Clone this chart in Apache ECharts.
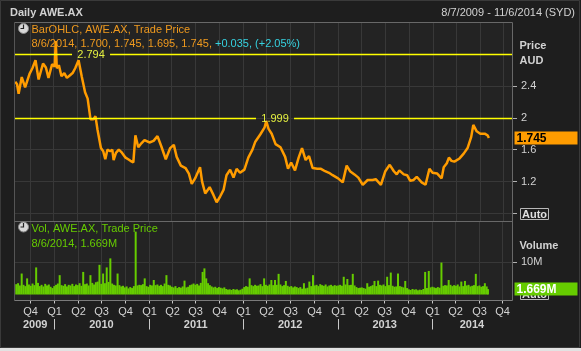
<!DOCTYPE html>
<html>
<head>
<meta charset="utf-8">
<script src="https://cdn.jsdelivr.net/npm/echarts@6/dist/echarts.min.js"></script>
<style>
  html, body { margin: 0; padding: 0; background: #1e1e1e; }
  #chart { width: 581px; height: 351px; }
</style>
</head>
<body>
<div id="chart"></div>
<script>
// price (closes), AUD
var priceDates = [
  '2009-08-07','2009-08-14','2009-08-20','2009-09-01','2009-09-14','2009-10-01','2009-10-12','2009-10-24','2009-11-05','2009-11-22','2009-12-03','2009-12-13','2009-12-27',
  '2010-01-06','2010-01-10','2010-01-14','2010-01-22','2010-02-01','2010-02-12','2010-02-22','2010-03-05','2010-03-16','2010-03-26','2010-04-08','2010-04-20','2010-05-03','2010-05-13','2010-05-24','2010-06-04','2010-06-12','2010-06-20','2010-07-03','2010-07-12','2010-07-20','2010-07-28','2010-08-08','2010-08-16','2010-08-21','2010-08-30','2010-09-10','2010-09-20','2010-10-06','2010-10-16','2010-10-25','2010-11-05','2010-11-13','2010-11-24','2010-12-06','2010-12-18',
  '2011-01-06','2011-01-22','2011-02-06','2011-02-21','2011-03-10','2011-03-27','2011-04-10','2011-04-21','2011-05-07','2011-05-25','2011-06-07','2011-06-18','2011-07-01','2011-07-20','2011-07-28','2011-08-09','2011-08-26','2011-09-10','2011-09-22','2011-10-05','2011-10-19','2011-10-30','2011-11-13','2011-11-26','2011-12-08','2011-12-21',
  '2012-01-07','2012-01-22','2012-02-07','2012-02-18','2012-03-08','2012-03-25','2012-03-31','2012-04-09','2012-04-21','2012-05-06','2012-05-25','2012-06-12','2012-06-23','2012-07-05','2012-07-20','2012-08-03','2012-08-16','2012-08-30','2012-09-12','2012-09-26','2012-10-14','2012-10-28','2012-11-13','2012-11-28','2012-12-12',
  '2013-01-02','2013-01-20','2013-02-04','2013-02-17','2013-03-06','2013-03-21','2013-04-07','2013-04-26','2013-05-15','2013-05-27','2013-06-16','2013-07-03','2013-07-20','2013-08-05','2013-08-16','2013-08-26','2013-09-12','2013-09-25','2013-10-07','2013-10-20','2013-11-01','2013-11-20','2013-12-05','2013-12-20',
  '2014-01-01','2014-01-19','2014-02-05','2014-02-13','2014-02-25','2014-03-05','2014-03-15','2014-03-26','2014-04-15','2014-05-01','2014-05-16','2014-05-30','2014-06-07','2014-06-20','2014-07-04','2014-07-21','2014-08-01','2014-08-06'
];
var priceValues = [
  2.45,2.42,2.30,2.51,2.38,2.55,2.62,2.72,2.48,2.68,2.63,2.50,2.67,
  2.64,2.96,2.62,2.66,2.52,2.56,2.50,2.53,2.56,2.62,2.72,2.52,2.32,2.24,1.98,1.98,2.02,1.85,1.62,1.58,1.48,1.60,1.58,1.60,1.47,1.56,1.60,1.57,1.50,1.48,1.46,1.44,1.78,1.63,1.68,1.72,
  1.69,1.71,1.77,1.64,1.48,1.62,1.66,1.51,1.40,1.37,1.30,1.17,1.24,1.38,1.20,1.05,1.13,1.03,0.94,1.01,1.10,1.28,1.35,1.25,1.36,1.31,
  1.35,1.50,1.60,1.70,1.79,1.88,1.96,1.86,1.80,1.67,1.63,1.51,1.36,1.44,1.34,1.50,1.62,1.47,1.52,1.37,1.36,1.36,1.33,1.31,1.28,
  1.24,1.19,1.40,1.33,1.29,1.25,1.16,1.22,1.22,1.23,1.16,1.33,1.41,1.33,1.29,1.34,1.29,1.28,1.21,1.22,1.26,1.19,1.16,1.36,
  1.31,1.30,1.24,1.38,1.43,1.50,1.46,1.45,1.49,1.55,1.62,1.76,1.91,1.83,1.80,1.80,1.78,1.745
];

// volume, millions of shares
var volDates = [
  '2009-08-07','2009-08-14','2009-08-21','2009-08-28','2009-09-04','2009-09-11','2009-09-18','2009-09-25','2009-10-02','2009-10-09','2009-10-16','2009-10-23','2009-10-30','2009-11-06','2009-11-13','2009-11-20','2009-11-27','2009-12-04','2009-12-11','2009-12-18','2009-12-25',
  '2010-01-01','2010-01-08','2010-01-15','2010-01-22','2010-01-29','2010-02-05','2010-02-12','2010-02-19','2010-02-26','2010-03-05','2010-03-12','2010-03-19','2010-03-26','2010-04-02','2010-04-09','2010-04-16','2010-04-23','2010-04-30','2010-05-07','2010-05-14','2010-05-21','2010-05-28','2010-06-04','2010-06-11','2010-06-18','2010-06-25','2010-07-02','2010-07-09','2010-07-16','2010-07-23','2010-07-30','2010-08-06','2010-08-13','2010-08-20','2010-08-27','2010-09-03','2010-09-10','2010-09-17','2010-09-24','2010-10-01','2010-10-08','2010-10-15','2010-10-22','2010-10-29','2010-11-05','2010-11-12','2010-11-19','2010-11-26','2010-12-03','2010-12-10','2010-12-17','2010-12-24','2010-12-31',
  '2011-01-07','2011-01-14','2011-01-21','2011-01-28','2011-02-04','2011-02-11','2011-02-18','2011-02-25','2011-03-04','2011-03-11','2011-03-18','2011-03-25','2011-04-01','2011-04-08','2011-04-15','2011-04-22','2011-04-29','2011-05-06','2011-05-13','2011-05-20','2011-05-27','2011-06-03','2011-06-10','2011-06-17','2011-06-24','2011-07-01','2011-07-08','2011-07-15','2011-07-22','2011-07-29','2011-08-05','2011-08-12','2011-08-19','2011-08-26','2011-09-02','2011-09-09','2011-09-16','2011-09-23','2011-09-30','2011-10-07','2011-10-14','2011-10-21','2011-10-28','2011-11-04','2011-11-11','2011-11-18','2011-11-25','2011-12-02','2011-12-09','2011-12-16','2011-12-23','2011-12-30',
  '2012-01-06','2012-01-13','2012-01-20','2012-01-27','2012-02-03','2012-02-10','2012-02-17','2012-02-24','2012-03-02','2012-03-09','2012-03-16','2012-03-23','2012-03-30','2012-04-06','2012-04-13','2012-04-20','2012-04-27','2012-05-04','2012-05-11','2012-05-18','2012-05-25','2012-06-01','2012-06-08','2012-06-15','2012-06-22','2012-06-29','2012-07-06','2012-07-13','2012-07-20','2012-07-27','2012-08-03','2012-08-10','2012-08-17','2012-08-24','2012-08-31','2012-09-07','2012-09-14','2012-09-21','2012-09-28','2012-10-05','2012-10-12','2012-10-19','2012-10-26','2012-11-02','2012-11-09','2012-11-16','2012-11-23','2012-11-30','2012-12-07','2012-12-14','2012-12-21','2012-12-28',
  '2013-01-04','2013-01-11','2013-01-18','2013-01-25','2013-02-01','2013-02-08','2013-02-15','2013-02-22','2013-03-01','2013-03-08','2013-03-15','2013-03-22','2013-03-29','2013-04-05','2013-04-12','2013-04-19','2013-04-26','2013-05-03','2013-05-10','2013-05-17','2013-05-24','2013-05-31','2013-06-07','2013-06-14','2013-06-21','2013-06-28','2013-07-05','2013-07-12','2013-07-19','2013-07-26','2013-08-02','2013-08-09','2013-08-16','2013-08-23','2013-08-30','2013-09-06','2013-09-13','2013-09-20','2013-09-27','2013-10-04','2013-10-11','2013-10-18','2013-10-25','2013-11-01','2013-11-08','2013-11-15','2013-11-22','2013-11-29','2013-12-06','2013-12-13','2013-12-20','2013-12-27',
  '2014-01-03','2014-01-10','2014-01-17','2014-01-24','2014-01-31','2014-02-07','2014-02-14','2014-02-21','2014-02-28','2014-03-07','2014-03-14','2014-03-21','2014-03-28','2014-04-04','2014-04-11','2014-04-18','2014-04-25','2014-05-02','2014-05-09','2014-05-16','2014-05-23','2014-05-30','2014-06-06','2014-06-13','2014-06-20','2014-06-27','2014-07-04','2014-07-11','2014-07-18','2014-07-25','2014-08-01','2014-08-06'
];
var volValues = [
  3.2,3.5,2.8,6.5, 3.0,2.6,5.0,3.1, 2.7,3.4,2.9,8.4,3.6, 2.6,3.0,2.5,3.3, 2.8,3.1,2.4,2.0,
  2.6,3.0,3.4,6.0,2.9, 2.7,3.2,2.5,3.0, 2.8,3.3,2.6,3.1, 2.9,3.5,2.7,7.0,3.2, 3.4,2.8,6.0,3.6, 3.1,3.8,4.0,9.2, 3.3,6.5,3.5,8.4,3.9, 11.2,3.4,3.0,2.8, 6.5,2.9,2.5,2.7, 2.2,2.5,1.9,2.3,2.0, 2.6,19.5,2.8,3.0, 2.9,3.2,5.0,2.6,2.4,
  3.0,2.8,4.5,2.9, 3.1,2.7,3.0,2.6, 3.4,6.0,3.0,2.8, 2.4,2.2,2.6,2.0,2.3, 2.1,2.5,4.3,2.2, 2.4,2.9,3.1,3.4, 3.0,3.3,2.8,3.6,7.0, 8.1,5.0,3.5,2.9, 2.5,2.2,2.4,2.0,2.3, 2.1,1.9,2.2,1.7, 1.5,1.6,1.4,1.7, 1.5,1.6,1.3,1.5,1.8,
  2.3,2.6,2.4,5.0, 2.9,2.6,3.0,2.7, 2.8,3.2,2.6,5.0,3.0, 2.7,3.1,4.5,2.9, 4.5,3.0,6.4,3.1, 2.6,2.9,4.2,2.7,2.4, 2.6,2.2,2.5,2.3, 2.0,2.3,1.8,3.5,1.9, 2.1,4.0,2.6,6.0, 2.8,3.0,2.6,3.2, 2.9,2.7,3.1,2.5,2.8, 3.0,2.6,2.9,2.7,
  2.8,3.0,2.7,5.5, 3.1,4.8,2.9,3.0, 6.4,2.8,2.3,2.0,2.1, 2.2,2.0,1.8,3.5, 2.4,2.6,2.9,4.2,2.6, 4.3,3.0,2.8,3.1, 2.6,5.5,2.9,6.8, 2.7,2.4,2.5,6.5,2.6, 2.4,2.2,4.2,2.0, 1.6,1.4,1.7,1.5, 1.6,1.3,1.5,1.4,1.7, 7.0,2.0,7.3,2.2,
  2.4,2.2,2.0,2.3,2.1, 9.9,2.7,2.9,2.8, 4.5,3.0,2.6,2.9, 2.7,3.1,2.5,4.0, 2.6,4.2,2.8,3.0,2.5, 2.7,2.9,6.4,2.6, 2.8,2.4,2.6,3.5, 2.5,1.669
];

var quarterStarts = ['2009-10-01','2010-01-01','2010-04-01','2010-07-01','2010-10-01','2011-01-01','2011-04-01','2011-07-01','2011-10-01','2012-01-01','2012-04-01','2012-07-01','2012-10-01','2013-01-01','2013-04-01','2013-07-01','2013-10-01','2014-01-01','2014-04-01','2014-07-01','2014-10-01'];
var quarterLabels = ['Q4','Q1','Q2','Q3','Q4','Q1','Q2','Q3','Q4','Q1','Q2','Q3','Q4','Q1','Q2','Q3','Q4','Q1','Q2','Q3','Q4'];
var yearLabels = ['2009','2010','2011','2012','2013','2014'];
var priceTicks = [1.2, 1.6, 2, 2.4];
var volTicks = [10];
var hiLevels = [2.794, 1.999];
var hiLabelDates = ['2010-05-26', '2012-05-04'];
var lastDate = '8/6/2014';
var lastOHLC = ['1.700', '1.745', '1.695', '1.745'];
var lastChange = ['+0.035', '+2.05%'];
var lastClose = 1.745;
var lastVol = 1.669;
var xMin = '2009-08-06', xMax = '2014-11-07';

var FONT = '"Liberation Sans", Arial, sans-serif';
var BG = '#1e1e1e', PLOT = '#232323', GRIDC = '#383838', FRAME = '#686868';
var TXT = '#d2d2d2', ORANGE = '#ff9c00', OTXT = '#f09a1e', CYAN = '#36d2e0';
var GREEN = '#66cc00', YELLOW = '#ffff00', YTXT = '#e4f040';

var tp = echarts.time.parse;
var tMin = +tp(xMin), tMax = +tp(xMax);

var priceData = priceDates.map(function (d, i) { return [d, priceValues[i]]; });
var volData = volDates.map(function (d, i) { return [d, volValues[i]]; });
var qData = quarterStarts.map(function (d) { return [+tp(d), 0]; });
var yData = yearLabels.map(function (y) {
  var s = +tp(y + '-01-01'), e = +tp((+y + 1) + '-01-01');
  return [Math.max(s, tMin), Math.min(e, tMax)];
});
var hiData = hiLevels.map(function (v, i) { return [+tp(hiLabelDates[i]), v]; });

function crisp(v) { return Math.round(v) + 0.5; }

// value box on the right of the axis (current price / volume)
function valueBox(text, fill, color) {
  return function (params, api) {
    var cs = params.coordSys;
    var y = api.coord([api.value(0), api.value(1)])[1];
    var x = cs.x + cs.width + 1.5;
    return {
      type: 'group', children: [
        { type: 'rect', shape: { x: x, y: Math.round(y) - 6.5, width: 63, height: 13 }, style: { fill: fill } },
        { type: 'text', x: x + 2, y: Math.round(y) + 0.5, style: { text: text, fill: color, font: 'bold 12px ' + FONT, verticalAlign: 'middle' } }
      ]
    };
  };
}

var chart = echarts.init(document.getElementById('chart'));

var option = {
  backgroundColor: BG,
  animation: false,
  textStyle: { fontFamily: FONT },
  grid: [
    { left: 15, right: 68, top: 22, bottom: 137.5 },
    { left: 15, right: 68, top: 230, bottom: 56.5 }
  ],
  xAxis: [
    { type: 'time', gridIndex: 0, min: xMin, max: xMax, show: false },
    { type: 'time', gridIndex: 1, min: xMin, max: xMax, show: false }
  ],
  yAxis: [
    {
      type: 'value', gridIndex: 0, position: 'right', min: 0.8, max: 3.2, interval: 0.4,
      axisLine: { show: false },
      axisTick: { show: true, length: 4, lineStyle: { color: '#b0b0b0' }, customValues: [0.8, 1.2, 1.6, 2, 2.4] },
      axisLabel: { color: TXT, fontSize: 11, margin: 8, customValues: priceTicks },
      splitLine: { lineStyle: { color: GRIDC } }
    },
    {
      type: 'value', gridIndex: 1, position: 'right', min: 0, max: 20, interval: 10,
      axisLine: { show: false },
      axisTick: { show: true, length: 4, lineStyle: { color: '#b0b0b0' }, customValues: volTicks },
      axisLabel: { color: TXT, fontSize: 11, margin: 8, customValues: volTicks, formatter: '{value}M' },
      splitLine: { lineStyle: { color: GRIDC } }
    }
  ],
  series: [
    {
      // quarter grid lines, price panel
      type: 'custom', xAxisIndex: 0, yAxisIndex: 0, silent: true, z: 1,
      data: qData,
      renderItem: function (params, api) {
        var cs = params.coordSys;
        var x = crisp(api.coord([api.value(0), 0])[0]);
        return { type: 'line', shape: { x1: x, y1: cs.y, x2: x, y2: cs.y + cs.height + 8 }, style: { stroke: GRIDC, lineWidth: 1 } };
      }
    },
    {
      // quarter grid lines, ticks and labels, volume panel
      type: 'custom', xAxisIndex: 1, yAxisIndex: 1, silent: true, z: 1, clip: false,
      data: qData,
      renderItem: function (params, api) {
        var cs = params.coordSys;
        var x = crisp(api.coord([api.value(0), 0])[0]);
        var b = cs.y + cs.height;
        return {
          type: 'group', children: [
            { type: 'line', shape: { x1: x, y1: cs.y - 8, x2: x, y2: b + 6 }, style: { stroke: GRIDC, lineWidth: 1 } },
            { type: 'line', shape: { x1: x, y1: b + 6, x2: x, y2: b + 9 }, style: { stroke: '#c8c8c8', lineWidth: 1 } },
            { type: 'text', x: x, y: b + 17.5, style: { text: quarterLabels[params.dataIndex], fill: TXT, font: '11px ' + FONT, align: 'center', verticalAlign: 'middle' } }
          ]
        };
      }
    },
    {
      // year labels and separators
      type: 'custom', xAxisIndex: 1, yAxisIndex: 1, silent: true, z: 1, clip: false,
      data: yData,
      renderItem: function (params, api) {
        var cs = params.coordSys;
        var x1 = api.coord([api.value(0), 0])[0];
        var x2 = api.coord([api.value(1), 0])[0];
        var b = cs.y + cs.height;
        var kids = [
          { type: 'text', x: (x1 + x2) / 2, y: b + 30, style: { text: yearLabels[params.dataIndex], fill: TXT, font: 'bold 11px ' + FONT, align: 'center', verticalAlign: 'middle' } }
        ];
        if (params.dataIndex > 0) {
          var sx = crisp(x1);
          kids.push({ type: 'line', shape: { x1: sx, y1: b + 24.5, x2: sx, y2: b + 35 }, style: { stroke: '#c8c8c8', lineWidth: 1 } });
        }
        return { type: 'group', children: kids };
      }
    },
    {
      type: 'line', name: 'Price', xAxisIndex: 0, yAxisIndex: 0, z: 2,
      data: priceData,
      showSymbol: false,
      lineStyle: { color: ORANGE, width: 2.5 }
    },
    {
      // high lines with their labels
      type: 'custom', xAxisIndex: 0, yAxisIndex: 0, silent: true, z: 3,
      data: hiData,
      renderItem: function (params, api) {
        var cs = params.coordSys;
        var p = api.coord([api.value(0), api.value(1)]);
        var y = crisp(p[1]);
        var half = 19;
        var st = { stroke: YELLOW, lineWidth: 1.3 };
        return {
          type: 'group', children: [
            { type: 'line', shape: { x1: cs.x, y1: y, x2: p[0] - half, y2: y }, style: st },
            { type: 'line', shape: { x1: p[0] + half, y1: y, x2: cs.x + cs.width, y2: y }, style: st },
            { type: 'text', x: p[0], y: y, style: { text: hiLevels[params.dataIndex].toFixed(3), fill: YTXT, font: '11px ' + FONT, align: 'center', verticalAlign: 'middle' } }
          ]
        };
      }
    },
    {
      // current price box
      type: 'custom', xAxisIndex: 0, yAxisIndex: 0, silent: true, z: 6, clip: false,
      data: [[priceDates[priceDates.length - 1], lastClose]],
      renderItem: valueBox(lastClose.toFixed(3), ORANGE, '#000')
    },
    {
      type: 'bar', name: 'Vol', xAxisIndex: 1, yAxisIndex: 1, z: 2,
      data: volData,
      barWidth: 2,
      itemStyle: { color: GREEN }
    },
    {
      // current volume box
      type: 'custom', xAxisIndex: 1, yAxisIndex: 1, silent: true, z: 6, clip: false,
      data: [[volDates[volDates.length - 1], lastVol]],
      renderItem: valueBox(lastVol.toFixed(3) + 'M', GREEN, '#fff')
    }
  ],
  graphic: [
    { type: 'rect', z: -10, shape: { x: 14.5, y: 22.5, width: 498, height: 278 }, style: { fill: PLOT } },
    { type: 'rect', z: -10, shape: { x: 0.5, y: 0.5, width: 579, height: 347 }, style: { fill: 'none', stroke: '#3a3a3a' } },
    { type: 'rect', z: 50, shape: { x: 0, y: 348, width: 581, height: 3 }, style: { fill: '#e2e2e2' } },
    // panel frame
    { type: 'line', z: 20, shape: { x1: 14.5, y1: 22.5, x2: 512.5, y2: 22.5 }, style: { stroke: FRAME } },
    { type: 'line', z: 20, shape: { x1: 14.5, y1: 22.5, x2: 14.5, y2: 300.5 }, style: { stroke: '#555' } },
    { type: 'line', z: 20, shape: { x1: 512.5, y1: 22.5, x2: 512.5, y2: 300.5 }, style: { stroke: FRAME } },
    { type: 'line', z: 20, shape: { x1: 14.5, y1: 221.5, x2: 512.5, y2: 221.5 }, style: { stroke: FRAME } },
    { type: 'line', z: 20, shape: { x1: 14.5, y1: 300.5, x2: 512.5, y2: 300.5 }, style: { stroke: '#7a7a7a' } },
    // header
    { type: 'text', z: 20, x: 10, y: 12.5, style: { text: 'Daily AWE.AX', fill: TXT, font: 'bold 11px ' + FONT, verticalAlign: 'middle' } },
    { type: 'text', z: 20, x: 575, y: 12.5, style: { text: '8/7/2009 - 11/6/2014 (SYD)', fill: TXT, font: '11px ' + FONT, align: 'right', verticalAlign: 'middle' } },
    // price legend
    { type: 'circle', z: 20, shape: { cx: 23.5, cy: 28.5, r: 5 }, style: { fill: '#d8d8d8', stroke: '#8a8a8a', lineWidth: 1 } },
    { type: 'polyline', z: 21, shape: { points: [[23.5, 24.5], [23.5, 28.5], [20.5, 28.5]] }, style: { stroke: '#222', lineWidth: 1.2, fill: null } },
    { type: 'text', z: 20, x: 31.5, y: 30, style: { text: 'BarOHLC, AWE.AX, Trade Price', fill: OTXT, font: '11px ' + FONT, verticalAlign: 'middle' } },
    {
      type: 'text', z: 20, x: 31.5, y: 44, style: {
        text: '{o|' + lastDate + ', ' + lastOHLC.join(', ') + ', }{c|' + lastChange[0] + ', (' + lastChange[1] + ')}',
        font: '11px ' + FONT, verticalAlign: 'middle',
        rich: { o: { fill: OTXT, font: '11px ' + FONT }, c: { fill: CYAN, font: '11px ' + FONT } }
      }
    },
    // volume legend
    { type: 'circle', z: 20, shape: { cx: 23.5, cy: 227, r: 5 }, style: { fill: '#d8d8d8', stroke: '#8a8a8a', lineWidth: 1 } },
    { type: 'polyline', z: 21, shape: { points: [[23.5, 223], [23.5, 227], [20.5, 227]] }, style: { stroke: '#222', lineWidth: 1.2, fill: null } },
    { type: 'text', z: 20, x: 31.5, y: 229, style: { text: 'Vol, AWE.AX, Trade Price', fill: GREEN, font: '11px ' + FONT, verticalAlign: 'middle' } },
    { type: 'text', z: 20, x: 31.5, y: 243.5, style: { text: lastDate + ', ' + lastVol.toFixed(3) + 'M', fill: GREEN, font: '11px ' + FONT, verticalAlign: 'middle' } },
    // right side captions
    { type: 'text', z: 20, x: 519.5, y: 46, style: { text: 'Price', fill: TXT, font: 'bold 11px ' + FONT, verticalAlign: 'middle' } },
    { type: 'text', z: 20, x: 519.5, y: 61, style: { text: 'AUD', fill: TXT, font: 'bold 11px ' + FONT, verticalAlign: 'middle' } },
    { type: 'text', z: 20, x: 519.5, y: 246, style: { text: 'Volume', fill: TXT, font: 'bold 11px ' + FONT, verticalAlign: 'middle' } },
    // Auto buttons
    { type: 'rect', z: 20, shape: { x: 520.5, y: 208.5, width: 28, height: 11 }, style: { fill: BG, stroke: '#b8b8b8' } },
    { type: 'text', z: 21, x: 534.5, y: 214.5, style: { text: 'Auto', fill: '#e0e0e0', font: 'bold 11px ' + FONT, align: 'center', verticalAlign: 'middle' } },
    { type: 'rect', z: 1, shape: { x: 520.5, y: 288.5, width: 28, height: 11 }, style: { fill: BG, stroke: '#b8b8b8' } },
    { type: 'text', z: 1, x: 534.5, y: 294.5, style: { text: 'Auto', fill: '#e0e0e0', font: 'bold 11px ' + FONT, align: 'center', verticalAlign: 'middle' } }
  ]
};

chart.setOption(option);
</script>
</body>
</html>
